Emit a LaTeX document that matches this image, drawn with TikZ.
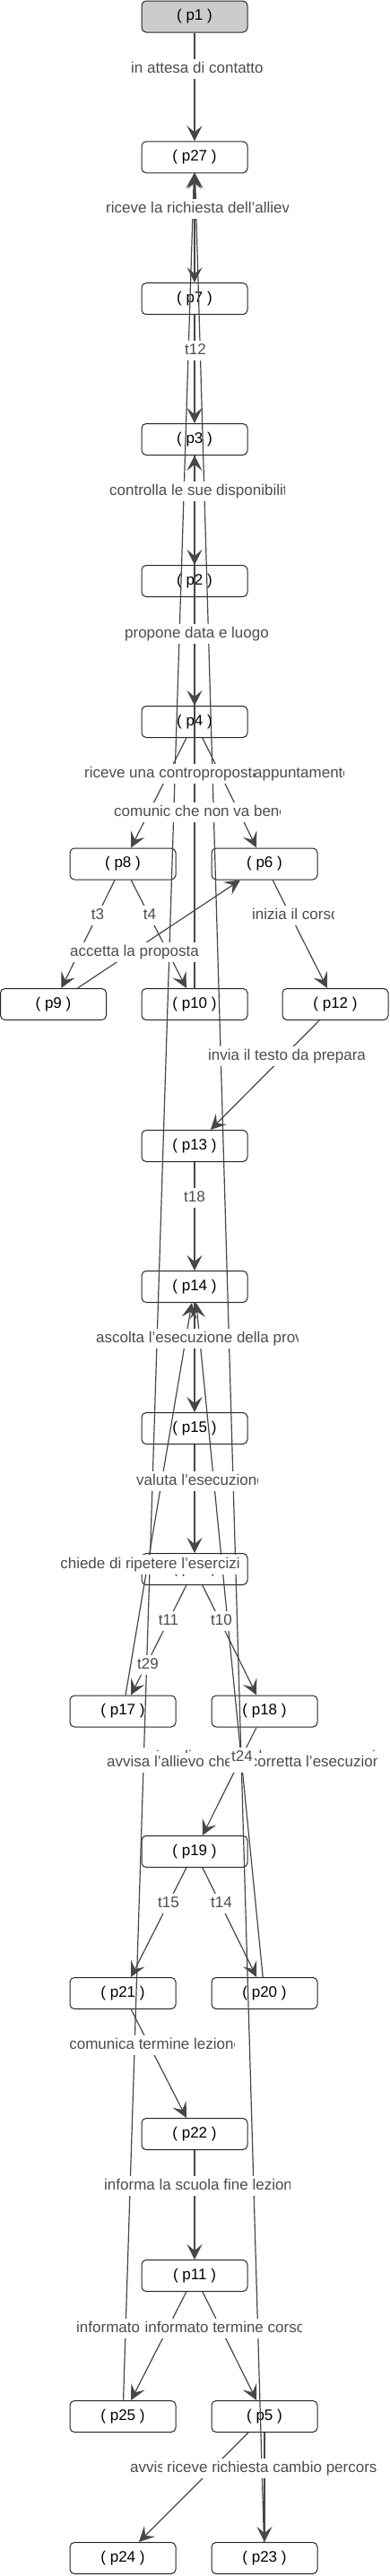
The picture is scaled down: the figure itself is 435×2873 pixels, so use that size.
\documentclass[tikz,border=0pt]{standalone}
\usepackage{fontspec}
\setmainfont{Liberation Sans}
\usetikzlibrary{arrows.meta}
\newcommand{\lblfont}{\fontsize{17pt}{20pt}\selectfont}
\newcommand{\pfont}{\fontsize{17pt}{20pt}\selectfont}
\begin{document}
\begin{tikzpicture}[x=1pt,y=-1pt,
pbox/.style={draw=black!85,line width=1pt,rounded corners=5pt,fill=white,minimum width=118pt,minimum height=35pt,inner sep=0pt,font=\pfont},
pfirst/.style={pbox,fill=black!20},
flow/.style={draw=black!72,line width=1.2pt,-{Stealth[length=17pt,width=17pt,inset=7pt]}},
lbl/.style={fill=white,inner xsep=2pt,inner ysep=0pt,minimum height=22pt,text height=13pt,text depth=4pt,text=black!70,font=\lblfont},
cutlbl/.style 2 args={fill=white,inner sep=0pt,minimum width=#1,minimum height=22pt,
  path picture={\node[anchor=west,inner sep=0pt,minimum width=0pt,minimum height=0pt,text height=13pt,text depth=4pt,text=black!70,font=\lblfont] at ([xshift=5pt]path picture bounding box.west) {#2};}}]
\useasboundingbox (0,0) rectangle (435,2873);
\node[pfirst] (p1) at (217,18.5) {( p1 )};
\node[pbox] (p27) at (217,175.3) {( p27 )};
\node[pbox] (p7) at (217,333.2) {( p7 )};
\node[pbox] (p3) at (217,490) {( p3 )};
\node[pbox] (p2) at (217,648) {( p2 )};
\node[pbox] (p4) at (217,805) {( p4 )};
\node[pbox] (p8) at (137,963.5) {( p8 )};
\node[pbox] (p6) at (295,963.5) {( p6 )};
\node[pbox] (p9) at (59.5,1120) {( p9 )};
\node[pbox] (p10) at (217,1120) {( p10 )};
\node[pbox] (p12) at (374,1120) {( p12 )};
\node[pbox] (p13) at (217,1278) {( p13 )};
\node[pbox] (p14) at (217,1435) {( p14 )};
\node[pbox] (p15) at (217,1593) {( p15 )};
\node[pbox] (p16) at (217,1750) {( p16 )};
\node[pbox] (p17) at (137,1908.5) {( p17 )};
\node[pbox] (p18) at (295,1908.5) {( p18 )};
\node[pbox] (p19) at (217,2065) {( p19 )};
\node[pbox] (p21) at (137,2223) {( p21 )};
\node[pbox] (p20) at (295,2223) {( p20 )};
\node[pbox] (p22) at (217,2380) {( p22 )};
\node[pbox] (p11) at (217,2538) {( p11 )};
\node[pbox] (p25) at (137,2695) {( p25 )};
\node[pbox] (p5) at (295,2695) {( p5 )};
\node[pbox] (p24) at (137,2853) {( p24 )};
\node[pbox] (p23) at (295,2853) {( p23 )};

\draw[flow] (p25) -- (p27);
\draw[flow] (p1) -- (p27);
\draw[flow] (p27) -- (p7);
\draw[flow] (p7) -- (p3);
\draw[flow] (p3) -- (p2);
\draw[flow] (p2) -- (p4);
\draw[flow] (p4) -- (p6);
\draw[flow] (p4) -- (p8);
\draw[flow] (p8) -- (p9);
\draw[flow] (p8) -- (p10);
\draw[flow] (p9) -- (p6);
\draw[flow] (p6) -- (p12);
\draw[flow] (p12) -- (p13);
\draw[flow] (p13) -- (p14);
\draw[flow] (p14) -- (p15);
\draw[flow] (p15) -- (p16);
\draw[flow] (p16) -- (p17);
\draw[flow] (p16) -- (p18);
\draw[flow] (p10) -- (p3);
\draw[flow] (p17) -- (p14);
\draw[flow] (p20) -- (p14);
\draw[flow] (p18) -- (p19);
\draw[flow] (p19) -- (p21);
\draw[flow] (p19) -- (p20);
\draw[flow] (p21) -- (p22);
\draw[flow] (p22) -- (p11);
\draw[flow] (p11) -- (p25);
\draw[flow] (p11) -- (p5);
\draw[flow] (p5) -- (p24);
\draw[flow] (p5) -- (p23);
\draw[flow] (p23) -- (p27);

\node[lbl] (l29) at (165,1857) {t29};
\node[cutlbl={153pt}{in attesa di contatto}] (l1) at (217.5,77) {};
\node[cutlbl={208pt}{riceve la richiesta dell'allievo}] (l2) at (217,233) {};
\node[lbl] (l3) at (218,391) {t12};
\node[cutlbl={200pt}{controlla le sue disponibilità}] (l4) at (217,548) {};
\node[lbl] (l5) at (219.5,707) {propone data e luogo};
\node[cutlbl={105pt}{appuntamento}] (l6) at (330.5,863) {};
\node[cutlbl={194pt}{riceve una controproposta}] (l7) at (186,863) {};
\node[lbl] (l8) at (109,1021) {t3};
\node[lbl] (l9) at (167,1021) {t4};
\node[lbl] (l10) at (150,1062) {accetta la proposta};
\node[cutlbl={96pt}{inizia il corso}] (l11) at (324,1021) {};
\node[cutlbl={179pt}{invia il testo da preparare}] (l12) at (316.5,1178) {};
\node[lbl] (l13) at (217,1336) {t18};
\node[cutlbl={230pt}{ascolta l'esecuzione della prova}] (l14) at (217,1493) {};
\node[cutlbl={140pt}{valuta l'esecuzione}] (l15) at (217,1652) {};
\node[lbl] (l16) at (188,1808) {t11};
\node[lbl] (l17) at (247,1808) {t10};
\node[cutlbl={190pt}{comunic che non va bene}] (l18) at (217,906) {};
\node[cutlbl={205pt}{chiede di ripetere l'esercizio}] (l19) at (164.6,1745) {};
\node[cutlbl={300pt}{comunica di eseguire la prova successiva}] (l20) at (268,1959.5) {};
\node[cutlbl={306pt}{avvisa l'allievo che è corretta l'esecuzione}] (l21) at (267,1966) {};
\node[lbl] (l22) at (188,2123) {t15};
\node[lbl] (l23) at (247,2123) {t14};
\node[cutlbl={189pt}{comunica termine lezione}] (l24) at (166.6,2281) {};
\node[cutlbl={212pt}{informa la scuola fine lezione}] (l25) at (217,2438) {};
\node[cutlbl={214pt}{informato}] (l26) at (187,2597) {};
\node[cutlbl={180pt}{informato termine corso}] (l27) at (246.5,2597) {};
\node[cutlbl={194pt}{avvisa}] (l28) at (237,2753) {};
\node[cutlbl={238pt}{riceve richiesta cambio percorso}] (l30) at (300,2753) {};
\node[lbl] (l31) at (270,1960) {t24};
\end{tikzpicture}
\end{document}
